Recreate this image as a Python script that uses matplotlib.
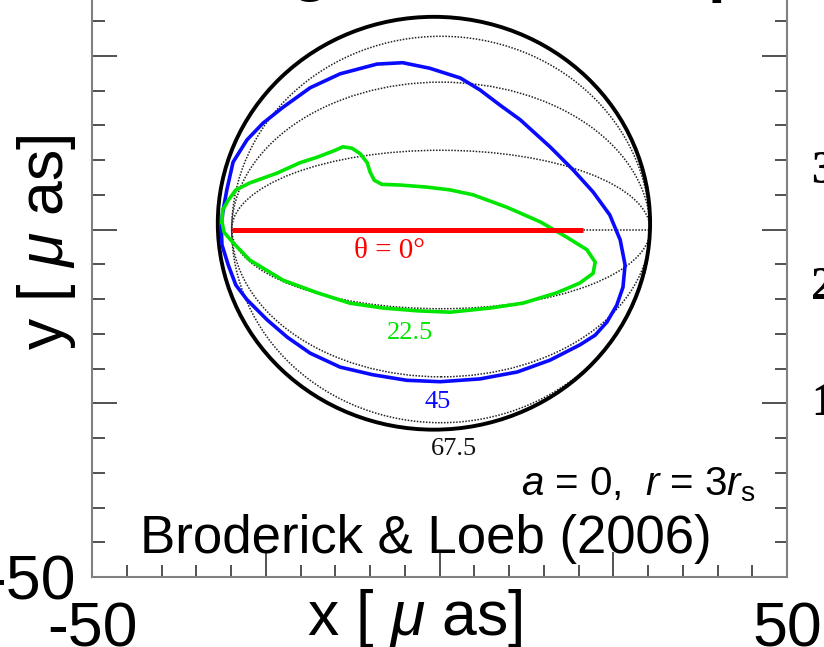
import matplotlib
matplotlib.use("Agg")
import matplotlib.pyplot as plt
from matplotlib.patches import Ellipse
from matplotlib.ticker import FixedLocator, FixedFormatter, MultipleLocator

plt.rcParams['font.family'] = ['Liberation Sans', 'DejaVu Sans']
plt.rcParams['mathtext.fontset'] = 'custom'
plt.rcParams['mathtext.rm'] = 'Liberation Sans'
plt.rcParams['mathtext.it'] = 'Liberation Sans:italic'

# --- data (micro-arcsec) ---
# outer lensed image, theta = 67.5 (black)
outer_center = (-0.8, 0.9)
outer_size = (62.2, 59.4)

# unlensed orbit projections (dotted), theta = 22.5, 45, 67.5
guide_center = (0.2, 0.0)
guide_halfwidth = 30.1
guide_halfheights = [11.4, 21.2, 27.8]

# theta = 0 (red), edge-on line
red_x = [-29.9, 20.6]
red_y = [0.0, 0.0]
guide_line_x = [-29.9, 30.3]

# theta = 45 (blue)
blue_x = [-31.4, -31.2, -30.6, -29.7, -27.7, -25.4, -22.5, -18.6, -14.3, -9.0,
          -5.3, -1.4, 3.0, 5.8, 8.7, 11.6, 15.9, 19.2, 22.1, 24.5,
          26.0, 26.7, 26.4, 25.5, 24.1, 22.4, 20.2, 15.9, 11.2, 5.8,
          0.1, -4.7, -9.6, -14.3, -18.6, -21.9, -24.8, -27.7, -29.3, -30.4,
          -31.3, -31.4]
blue_y = [0.1, 2.4, 5.7, 9.7, 12.9, 15.3, 17.6, 20.4, 22.4, 23.8,
          24.0, 23.2, 21.8, 20.1, 17.9, 15.8, 11.9, 8.6, 5.4, 2.1,
          -1.5, -5.1, -8.3, -10.9, -13.3, -15.2, -16.6, -18.8, -20.5, -21.5,
          -21.9, -21.7, -20.9, -19.8, -17.8, -15.5, -13.0, -10.1, -8.0, -5.1,
          -2.2, 0.1]

# theta = 22.5 (green)
green_x = [-31.3, -31.2, -30.4, -29.3, -27.3, -23.4, -20.1, -17.6, -15.0, -13.9,
           -12.6, -11.4, -10.4, -10.0, -9.4, -8.3, -5.7, -1.8, 1.5, 4.8,
           9.7, 14.5, 18.3, 21.2, 22.4, 22.1, 20.2, 16.9, 12.0, 7.3,
           1.5, -3.2, -8.1, -12.9, -17.6, -22.5, -27.3, -29.7, -31.0, -31.3]
green_y = [1.1, 2.8, 4.2, 5.7, 6.7, 8.1, 9.6, 10.4, 11.4, 11.9,
           11.7, 10.9, 9.6, 8.3, 7.1, 6.5, 6.4, 6.1, 5.7, 5.0,
           3.2, 1.1, -1.1, -2.9, -4.7, -6.3, -7.7, -9.1, -10.6, -11.3,
           -11.9, -11.7, -11.3, -10.6, -9.1, -7.3, -4.4, -1.9, -0.4, 1.1]

x_ticks = [-50, -25, 0, 25, 50]
x_ticklabels = ['-50', '', '', '', '50']
y_ticks = [-50, -25, 0, 25, 50]
y_ticklabels = ['-50', '', '', '', '50']

fig = plt.figure(figsize=(8.24, 6.47), dpi=100)
ax = fig.add_axes([92 / 824, 70 / 647, 695 / 824, 695 / 647])
ax.set_xlim(-50, 50)
ax.set_ylim(-50, 50)

# dotted guides
for hh in guide_halfheights:
    ax.add_patch(Ellipse(guide_center, 2 * guide_halfwidth, 2 * hh, fill=False,
                         edgecolor='#222222', linestyle=(0, (1, 1)), linewidth=1.1, zorder=2))
ax.plot(guide_line_x, [0, 0], color='#222222', linestyle=(0, (1, 1)), linewidth=1.1, zorder=2)

ax.add_patch(Ellipse(outer_center, outer_size[0], outer_size[1], fill=False,
                     edgecolor='black', linewidth=2.8, zorder=3))
ax.plot(blue_x, blue_y, color='#0a0aff', linewidth=2.6, zorder=4, solid_joinstyle='round')
ax.plot(green_x, green_y, color='#00e600', linewidth=2.6, zorder=4, solid_joinstyle='round')
ax.plot(red_x, red_y, color='#ff0000', linewidth=3.6, zorder=5, solid_capstyle='butt')

serif = ['Liberation Serif', 'DejaVu Serif']
ax.text(-7.2, -4.1, 'θ = 0°', color='#ff0000', fontsize=21, family=serif,
        ha='center', va='baseline')
ax.text(-4.2, -15.8, '22.5', color='#00e600', fontsize=19, family=serif,
        ha='center', va='baseline')
ax.text(-0.2, -25.7, '45', color='#0a0aff', fontsize=19, family=serif,
        ha='center', va='baseline')
ax.text(2.1, -32.4, '67.5', color='#111111', fontsize=19, family=serif,
        ha='center', va='baseline')

ax.text(45.4, -38.2, r'$a$ = 0,  $r$ = 3$r_{\rm s}$', fontsize=29, ha='right', va='baseline')
ax.text(-43.1, -46.5, 'Broderick & Loeb (2006)', fontsize=38, ha='left', va='baseline')

# axes styling
for side in ['left', 'right', 'bottom', 'top']:
    ax.spines[side].set_color('#808080')
    ax.spines[side].set_linewidth(1.5)
ax.xaxis.set_major_locator(FixedLocator(x_ticks))
ax.xaxis.set_major_formatter(FixedFormatter(x_ticklabels))
ax.yaxis.set_major_locator(FixedLocator(y_ticks))
ax.yaxis.set_major_formatter(FixedFormatter(y_ticklabels))
ax.xaxis.set_minor_locator(MultipleLocator(5))
ax.yaxis.set_minor_locator(MultipleLocator(5))
ax.tick_params(which='both', direction='in', top=True, right=True, color='#222222', width=1.1)
ax.tick_params(which='major', length=18, labelsize=45)
ax.tick_params(which='minor', length=9)
ax.tick_params(axis='x', which='major', pad=17)
ax.tick_params(axis='y', which='major', pad=12)

ax.set_xlabel('x [ $\\mu$ as]', fontsize=45)
ax.xaxis.label.set_va('baseline')
ax.xaxis.set_label_coords(0.465, -0.0835)
ax.set_ylabel('y [ $\\mu$ as]', fontsize=45)
ax.yaxis.label.set_rotation_mode('anchor')
ax.yaxis.label.set_va('baseline')
ax.yaxis.label.set_ha('center')
ax.yaxis.set_label_coords(-0.042, 0.482)

# fragments of the neighbouring panel and the cropped title
for lab, ypx in [('3', 172), ('2', 288), ('1', 404)]:
    fig.text(811 / 824, 1 - ypx / 647, lab, fontsize=34, family=serif, fontweight='bold',
             ha='left', va='center')
fig.text(290 / 824, 1 + 11 / 647, 'g', fontsize=46, fontweight='bold', ha='left', va='baseline')
fig.text(708 / 824, 1 + 10 / 647, 'p', fontsize=46, fontweight='bold', ha='left', va='baseline')

fig.savefig('out.png', dpi=100, facecolor='white')
